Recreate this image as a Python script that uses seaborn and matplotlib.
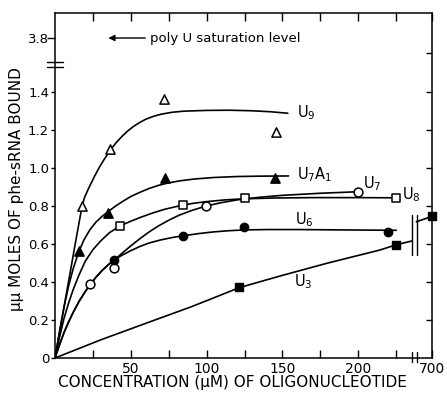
import numpy as np
import matplotlib
matplotlib.use("Agg")
import matplotlib.pyplot as plt
import seaborn as sns

# ---------------- data ----------------
# measured points
U9_x = [17.9, 36.1, 72.0, 145.7]
U9_y = [0.80, 1.10, 1.362, 1.19]
U7A1_x = [15.7, 35.0, 72.7, 145.1]
U7A1_y = [0.565, 0.762, 0.949, 0.946]
U8_x = [43.1, 84.3, 125.3, 224.7]
U8_y = [0.696, 0.805, 0.840, 0.844]
U7_x = [23.4, 39.1, 99.7, 199.9]
U7_y = [0.388, 0.472, 0.800, 0.875]
U6_x = [38.7, 84.3, 124.9, 219.6]
U6_y = [0.516, 0.644, 0.691, 0.662]
U3_x = [121.4, 224.7, 700]
U3_y = [0.375, 0.595, 0.745]

# hand-drawn fitted curves
U9_cx = [0, 5, 10, 14, 16.5, 17.9, 19.5, 22, 25.8, 29, 32, 36.1, 40, 44, 48,
         52, 56, 60, 65, 70, 77, 85, 100, 115, 130, 142, 153.5]
U9_cy = [0, 0.225, 0.45, 0.63, 0.74, 0.80, 0.845, 0.89, 0.952, 1.00, 1.04,
         1.09, 1.13, 1.165, 1.195, 1.22, 1.24, 1.257, 1.272, 1.283, 1.293,
         1.299, 1.303, 1.304, 1.301, 1.296, 1.288]
U7A1_cx = [0, 3, 6, 9, 12, 15.7, 19, 23, 27, 31, 35, 40, 45, 50, 56, 62, 68,
           74, 82, 92, 105, 120, 135, 154]
U7A1_cy = [0, 0.14, 0.27, 0.38, 0.47, 0.56, 0.62, 0.675, 0.715, 0.745, 0.77,
           0.80, 0.826, 0.85, 0.872, 0.892, 0.908, 0.92, 0.932, 0.942, 0.95,
           0.955, 0.957, 0.958]
U8_cx = [0, 3, 6, 9, 12, 16, 20, 25, 30, 36, 43.1, 50, 57, 64, 72, 80, 84.3,
         92, 100, 112, 125, 145, 170, 200, 224.7]
U8_cy = [0, 0.11, 0.21, 0.29, 0.36, 0.44, 0.51, 0.57, 0.615, 0.66, 0.696,
         0.72, 0.742, 0.762, 0.782, 0.797, 0.805, 0.815, 0.823, 0.832, 0.838,
         0.842, 0.844, 0.844, 0.843]
U7_cx = [0, 3, 6, 9, 12, 16, 20, 23.4, 27, 31, 35, 39, 44, 50, 56, 62, 68, 75,
         82, 90, 99.7, 110, 120, 135, 150, 175, 199.9]
U7_cy = [0, 0.07, 0.135, 0.19, 0.24, 0.30, 0.35, 0.388, 0.425, 0.46, 0.49,
         0.515, 0.55, 0.59, 0.628, 0.663, 0.694, 0.725, 0.752, 0.776, 0.80,
         0.818, 0.832, 0.846, 0.856, 0.867, 0.875]
U6_cx = [0, 3, 6, 9, 12, 16, 20, 23.4, 27, 31, 35, 39, 44, 50, 56, 62, 70, 78,
         84.3, 95, 105, 115, 124.9, 140, 160, 190, 225]
U6_cy = [0, 0.07, 0.135, 0.19, 0.24, 0.30, 0.35, 0.388, 0.425, 0.46, 0.49,
         0.515, 0.54, 0.565, 0.587, 0.605, 0.622, 0.635, 0.643, 0.655, 0.664,
         0.67, 0.674, 0.676, 0.676, 0.674, 0.672]
U3_cx = [0, 30, 62.8, 90, 108.9, 121.4, 150, 180, 214.1, 224.7, 235.4]
U3_cy = [0, 0.095, 0.191, 0.27, 0.33, 0.37, 0.435, 0.50, 0.568, 0.595, 0.616]
U3_tail_x = [238.3, 700]
U3_tail_y = [0.717, 0.745]

POLY_U_SAT = 3.8

x_ticks = [25, 50, 75, 100, 125, 150, 175, 200, 225, 700]
x_ticklabels = ["", "50", "", "100", "", "150", "", "200", "", "700"]
y_ticks = [0, 0.2, 0.4, 0.6, 0.8, 1.0, 1.2, 1.4, 3.8]
y_ticklabels = ["0", "0.2", "0.4", "0.6", "0.8", "1.0", "1.2", "1.4", "3.8"]

# ---------------- broken scales ----------------
XB, XK = 238.3, (248.6 - 238.3) / (700 - 238.3)
YB, YK = 1.55, (1.684 - 1.55) / (3.8 - 1.55)


def x_fwd(v):
    v = np.asarray(v, dtype=float)
    return np.where(v <= XB, v, XB + (v - XB) * XK)


def x_inv(u):
    u = np.asarray(u, dtype=float)
    return np.where(u <= XB, u, XB + (u - XB) / XK)


def y_fwd(v):
    v = np.asarray(v, dtype=float)
    return np.where(v <= YB, v, YB + (v - YB) * YK)


def y_inv(u):
    u = np.asarray(u, dtype=float)
    return np.where(u <= YB, u, YB + (u - YB) / YK)


sns.set_style("ticks")
plt.rcParams["font.family"] = ["DejaVu Sans"]
plt.rcParams["mathtext.fontset"] = "dejavusans"
for key in ["text.color", "axes.labelcolor", "xtick.color", "ytick.color",
            "axes.edgecolor", "xtick.labelcolor", "ytick.labelcolor"]:
    plt.rcParams[key] = "black"

W, H = 447, 395
fig = plt.figure(figsize=(W / 100, H / 100), dpi=100)
fig.patch.set_facecolor("white")
L, R, B, T = 55, 432, 358, 13.3
ax = fig.add_axes([L / W, (H - B) / H, (R - L) / W, (B - T) / H])
ax.set_xscale("function", functions=(x_fwd, x_inv))
ax.set_yscale("function", functions=(y_fwd, y_inv))

lw = 1.2
for cx, cy in [(U9_cx, U9_cy), (U7A1_cx, U7A1_cy), (U8_cx, U8_cy),
               (U7_cx, U7_cy), (U6_cx, U6_cy), (U3_cx, U3_cy),
               (U3_tail_x, U3_tail_y)]:
    sns.lineplot(x=cx, y=cy, color="black", lw=lw, sort=False,
                 estimator=None, ax=ax)

ms = 44
sns.scatterplot(x=U9_x, y=U9_y, marker="^", s=ms, facecolor="white",
                edgecolor="black", linewidth=1.1, ax=ax, zorder=4, clip_on=False)
sns.scatterplot(x=U7A1_x, y=U7A1_y, marker="^", s=ms, color="black",
                edgecolor="black", linewidth=1.1, ax=ax, zorder=4, clip_on=False)
sns.scatterplot(x=U8_x, y=U8_y, marker="s", s=32, facecolor="white",
                edgecolor="black", linewidth=1.1, ax=ax, zorder=4, clip_on=False)
sns.scatterplot(x=U7_x, y=U7_y, marker="o", s=40, facecolor="white",
                edgecolor="black", linewidth=1.1, ax=ax, zorder=4, clip_on=False)
sns.scatterplot(x=U6_x, y=U6_y, marker="o", s=36, color="black",
                edgecolor="black", linewidth=1.0, ax=ax, zorder=4, clip_on=False)
sns.scatterplot(x=U3_x, y=U3_y, marker="s", s=30, color="black",
                edgecolor="black", linewidth=1.0, ax=ax, zorder=4, clip_on=False)

ax.set_xlim(0, 700)
ax.set_ylim(0, float(y_inv(1.814)))

ax.set_xticks(x_ticks)
ax.set_xticklabels(x_ticklabels)
ax.set_yticks(y_ticks)
ax.set_yticklabels(y_ticklabels)
ax.tick_params(axis="x", direction="in", length=5.5, width=1.0, top=True,
               pad=3, labelsize=10, colors="black")
ax.tick_params(axis="y", direction="out", length=3, width=1.0, pad=1.2,
               labelsize=9.5, right=False, colors="black")
ax.yaxis.get_major_ticks()[-1].tick1line.set_markersize(6)
ax.set_xlabel("")
ax.set_ylabel("")
for s in ax.spines.values():
    s.set_linewidth(1.1)
    s.set_color("black")
    s.set_visible(True)

# right-hand inward ticks
ax2 = ax.twinx()
ax2.set_yscale("function", functions=(y_fwd, y_inv))
ax2.set_ylim(ax.get_ylim())
ax2.set_yticks([0.2, 0.4, 0.6, 0.8, 1.0, 1.2, 1.4, float(y_inv(1.605))])
ax2.tick_params(axis="y", direction="in", length=4.3, width=1.0,
                labelright=False, colors="black")
for s in ax2.spines.values():
    s.set_visible(False)

# series labels
fs = 10.5
ax.text(159.5, 1.29, r"U$_9$", fontsize=fs, va="center", ha="left")
ax.text(159.5, 0.963, r"U$_7$A$_1$", fontsize=fs, va="center", ha="left")
ax.text(203, 0.92, r"U$_7$", fontsize=fs, va="center", ha="left")
ax.text(229, 0.858, r"U$_8$", fontsize=fs, va="center", ha="left")
ax.text(158, 0.726, r"U$_6$", fontsize=fs, va="center", ha="left")
ax.text(157.5, 0.40, r"U$_3$", fontsize=fs, va="center", ha="left")

# poly U saturation level annotation
ax.annotate("", xy=(35.2, POLY_U_SAT), xytext=(59.5, POLY_U_SAT),
            arrowprops=dict(arrowstyle="-|>", color="black", lw=1.0,
                            mutation_scale=9, shrinkA=0, shrinkB=0))
ax.text(62.8, POLY_U_SAT, "poly U saturation level", fontsize=9.5,
        va="center", ha="left")

# axis break marks
tr = ax.transAxes
for yy in [0.8587, 0.8442]:
    ax.plot([-0.021, 0.021], [yy, yy], transform=tr, color="black",
            lw=1.0, clip_on=False, zorder=5)
for xx in [0.9478, 0.9594]:
    ax.plot([xx, xx], [-0.0107, 0.0183], transform=tr, color="black",
            lw=1.0, clip_on=False, zorder=5)
    ax.plot([xx, xx], [0.299, 0.415], transform=tr, color="black",
            lw=1.0, clip_on=False, zorder=5)

# axis titles
fig.text(17 / W, 1 - 189 / H, "\u03bc\u03bc MOLES OF phe-sRNA BOUND",
         rotation=90, ha="center", va="center", fontsize=11)
fig.text(232 / W, 1 - 383 / H, "CONCENTRATION (\u03bcM) OF OLIGONUCLEOTIDE",
         ha="center", va="center", fontsize=11)

fig.savefig("out.png", dpi=100, facecolor="white")
